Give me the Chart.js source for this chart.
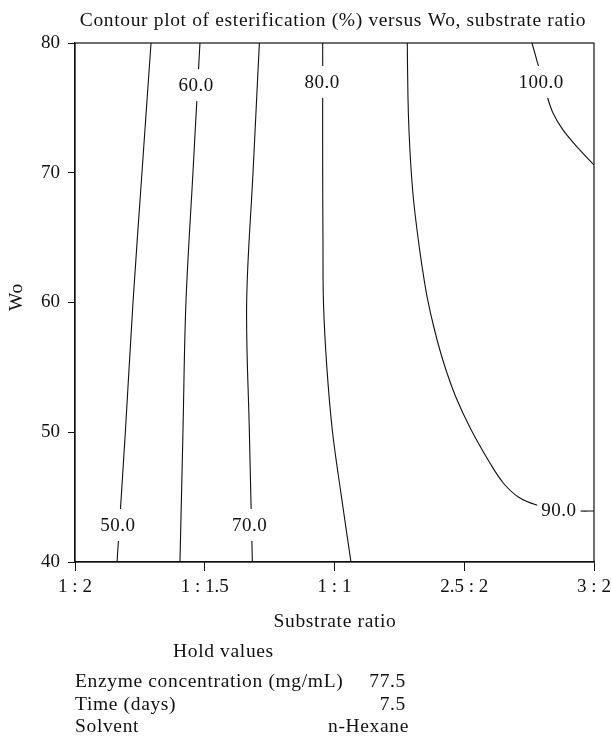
<!DOCTYPE html>
<html>
<head>
<meta charset="utf-8">
<script src="https://cdn.jsdelivr.net/npm/chart.js@4"></script>
<style>
    html, body { margin: 0; padding: 0; background: #fff; }
    #wrap { width: 612px; height: 736px; }
</style>
</head>
<body>
<div id="wrap"><canvas id="contour-chart" width="612" height="736"></canvas></div>
<script>
const ratioLabels = ['1 : 2', '1 : 1.5', '1 : 1', '2.5 : 2', '3 : 2'];
const woTicks     = [40, 50, 60, 70, 80];

// contour lines, x = position on the ratio axis (0..4), y = Wo
const c50X  = [0.586, 0.516, 0.447, 0.388, 0.324];
const c50Y  = [80, 70, 60, 50, 40];
const c60X  = [0.963, 0.909, 0.855, 0.832, 0.809];
const c60Y  = [80, 70, 60, 50, 40];
const c70X  = [1.421, 1.372, 1.323, 1.344, 1.367];
const c70Y  = [80, 70, 60, 50, 40];
const c80X  = [1.909, 1.909, 1.911, 1.915, 1.941, 1.985, 2.054, 2.127];
const c80Y  = [80, 70, 65, 60, 55, 50, 45, 40];
const c90X  = [2.561, 2.566, 2.574, 2.587, 2.607, 2.636, 2.671, 2.714, 2.771, 2.842, 2.935, 3.054, 3.198, 3.301, 3.417, 3.558, 3.72, 3.892, 4.0];
const c90Y  = [80, 75.92, 73.30, 70.75, 68.13, 65.59, 63.04, 60.42, 57.88, 55.34, 52.72, 50.17, 47.63, 46.09, 45.01, 44.39, 44.05, 43.93, 43.93];
const c100X = [3.522, 3.636, 3.684, 3.761, 3.869, 4.0];
const c100Y = [80, 76.0, 74.6, 73.3, 71.99, 70.6];

const levelNames = ['50.0', '60.0', '70.0', '80.0', '90.0', '100.0'];
const levelLabelX = [0.331, 0.933, 1.345, 1.904, 3.73, 3.592];
const levelLabelY = [42.85, 76.75, 42.85, 77.0, 44.0, 77.0];

const holdNames  = ['Enzyme concentration (mg/mL)', 'Time (days)', 'Solvent'];
const holdValues = ['77.5', '7.5', 'n-Hexane'];

const FONT = '"Liberation Serif", "DejaVu Serif", serif';

function toPoints(xs, ys) {
    return xs.map((x, i) => ({ x: x, y: ys[i] }));
}

const lines = [[c50X, c50Y], [c60X, c60Y], [c70X, c70Y], [c80X, c80Y], [c90X, c90Y], [c100X, c100Y]];

const frameAndText = {
    id: 'frameAndText',
    afterDatasetsDraw(chart) {
        const ctx = chart.ctx;
        const a = chart.chartArea;
        const xs = chart.scales.x, ys = chart.scales.y;
        ctx.save();

        // contour labels on white patches
        ctx.font = '19px ' + FONT;
        ctx.letterSpacing = '0.5px';
        ctx.textAlign = 'center';
        ctx.textBaseline = 'middle';
        levelNames.forEach((t, i) => {
            const px = xs.getPixelForValue(levelLabelX[i]);
            const py = ys.getPixelForValue(levelLabelY[i]);
            const w = ctx.measureText(t).width;
            ctx.fillStyle = '#fff';
            ctx.fillRect(px - w / 2 - 4, py - 16, w + 8, 32);
            ctx.fillStyle = '#111';
            ctx.fillText(t, px, py + 1);
        });

        // box round the plot
        ctx.strokeStyle = '#111';
        ctx.lineWidth = 1.2;
        ctx.strokeRect(a.left, a.top, a.right - a.left, a.bottom - a.top);
        ctx.restore();
    },
    afterDraw(chart) {
        const ctx = chart.ctx;
        ctx.save();
        ctx.fillStyle = '#111';
        ctx.font = '19.5px ' + FONT;
        ctx.letterSpacing = '0.65px';
        ctx.textBaseline = 'alphabetic';

        ctx.textAlign = 'center';
        ctx.fillText('Contour plot of esterification (%) versus Wo, substrate ratio', 333, 26);
        ctx.fillText('Substrate ratio', 335, 627);

        ctx.save();
        ctx.translate(22, 297);
        ctx.rotate(-Math.PI / 2);
        ctx.fillText('Wo', 0, 0);
        ctx.restore();

        ctx.textAlign = 'left';
        ctx.fillText('Hold values', 173, 657);
        const base = [687, 710, 732];
        holdNames.forEach((t, i) => ctx.fillText(t, 75, base[i]));
        ctx.textAlign = 'right';
        holdValues.forEach((t, i) => ctx.fillText(t, i === 2 ? 409 : 406, base[i]));
        ctx.restore();
    }
};

new Chart(document.getElementById('contour-chart').getContext('2d'), {
    type: 'scatter',
    data: {
        datasets: lines.map((l, i) => ({
            label: levelNames[i],
            data: toPoints(l[0], l[1]),
            showLine: true,
            borderColor: '#111',
            borderWidth: 1.1,
            pointRadius: 0,
            tension: 0.35,
            fill: false,
        })),
    },
    options: {
        responsive: false,
        animation: false,
        layout: { padding: { top: 43, right: 18, left: 0, bottom: 134 } },
        plugins: {
            legend: { display: false },
            tooltip: { enabled: false },
        },
        scales: {
            x: {
                type: 'linear',
                min: 0,
                max: 4,
                afterFit: s => { s.height = 40; s.paddingRight = 0; s.paddingLeft = 0; },
                afterBuildTicks: s => { s.ticks = ratioLabels.map((_, i) => ({ value: i })); },
                ticks: {
                    callback: v => ratioLabels[v],
                    color: '#111',
                    font: { family: FONT, size: 19 },
                    padding: 5,
                    maxRotation: 0,
                },
                grid: { drawOnChartArea: false, color: '#111', tickLength: 9 },
                border: { color: '#111', width: 1.2 },
            },
            y: {
                type: 'linear',
                min: 40,
                max: 80,
                afterFit: s => { s.width = 75; },
                afterBuildTicks: s => { s.ticks = woTicks.map(v => ({ value: v })); },
                ticks: {
                    color: '#111',
                    font: { family: FONT, size: 19 },
                    padding: 8,
                },
                grid: { drawOnChartArea: false, color: '#111', tickLength: 7 },
                border: { color: '#111', width: 1.2 },
            },
        },
    },
    plugins: [frameAndText],
});
</script>
</body>
</html>
